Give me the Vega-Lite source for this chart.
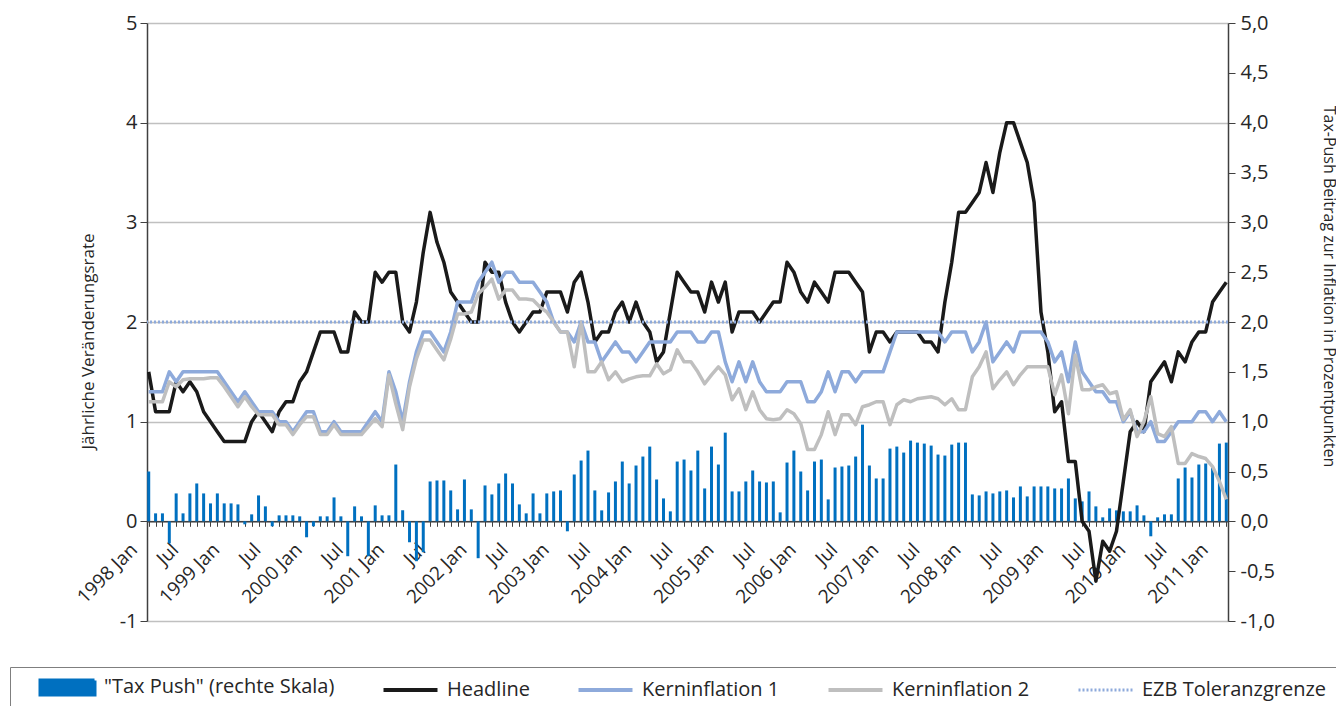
{
  "$schema": "https://vega.github.io/schema/vega-lite/v6.json",
  "width": 1081,
  "height": 598,
  "autosize": {"type": "none"},
  "padding": {"left": 147, "top": 23, "right": 108, "bottom": 85},
  "background": "white",
  "config": {"view": {"stroke": null}, "font": "Open Sans"},
  "datasets": {
    "d": [
      {"m":"1998-01","tax":0.5,"h":1.5,"k1":1.3,"k2":1.2},
      {"m":"1998-02","tax":0.08,"h":1.1,"k1":1.3,"k2":1.2},
      {"m":"1998-03","tax":0.08,"h":1.1,"k1":1.3,"k2":1.2},
      {"m":"1998-04","tax":-0.22,"h":1.1,"k1":1.5,"k2":1.4},
      {"m":"1998-05","tax":0.28,"h":1.4,"k1":1.4,"k2":1.35},
      {"m":"1998-06","tax":0.08,"h":1.3,"k1":1.5,"k2":1.42},
      {"m":"1998-07","tax":0.28,"h":1.4,"k1":1.5,"k2":1.43},
      {"m":"1998-08","tax":0.38,"h":1.3,"k1":1.5,"k2":1.43},
      {"m":"1998-09","tax":0.28,"h":1.1,"k1":1.5,"k2":1.43},
      {"m":"1998-10","tax":0.18,"h":1.0,"k1":1.5,"k2":1.44},
      {"m":"1998-11","tax":0.28,"h":0.9,"k1":1.5,"k2":1.44},
      {"m":"1998-12","tax":0.18,"h":0.8,"k1":1.4,"k2":1.35},
      {"m":"1999-01","tax":0.18,"h":0.8,"k1":1.3,"k2":1.25},
      {"m":"1999-02","tax":0.17,"h":0.8,"k1":1.2,"k2":1.15},
      {"m":"1999-03","tax":-0.03,"h":0.8,"k1":1.3,"k2":1.25},
      {"m":"1999-04","tax":0.07,"h":1.0,"k1":1.2,"k2":1.15},
      {"m":"1999-05","tax":0.26,"h":1.1,"k1":1.1,"k2":1.07},
      {"m":"1999-06","tax":0.15,"h":1.0,"k1":1.1,"k2":1.07},
      {"m":"1999-07","tax":-0.05,"h":0.9,"k1":1.1,"k2":1.07},
      {"m":"1999-08","tax":0.06,"h":1.1,"k1":1.0,"k2":0.97},
      {"m":"1999-09","tax":0.06,"h":1.2,"k1":1.0,"k2":0.97},
      {"m":"1999-10","tax":0.06,"h":1.2,"k1":0.9,"k2":0.87},
      {"m":"1999-11","tax":0.05,"h":1.4,"k1":1.0,"k2":0.97},
      {"m":"1999-12","tax":-0.16,"h":1.5,"k1":1.1,"k2":1.05},
      {"m":"2000-01","tax":-0.05,"h":1.7,"k1":1.1,"k2":1.05},
      {"m":"2000-02","tax":0.05,"h":1.9,"k1":0.9,"k2":0.87},
      {"m":"2000-03","tax":0.05,"h":1.9,"k1":0.9,"k2":0.87},
      {"m":"2000-04","tax":0.24,"h":1.9,"k1":1.0,"k2":0.97},
      {"m":"2000-05","tax":0.05,"h":1.7,"k1":0.9,"k2":0.87},
      {"m":"2000-06","tax":-0.35,"h":1.7,"k1":0.9,"k2":0.87},
      {"m":"2000-07","tax":0.15,"h":2.1,"k1":0.9,"k2":0.87},
      {"m":"2000-08","tax":0.05,"h":2.0,"k1":0.9,"k2":0.87},
      {"m":"2000-09","tax":-0.35,"h":2.0,"k1":1.0,"k2":0.95},
      {"m":"2000-10","tax":0.16,"h":2.5,"k1":1.1,"k2":1.03},
      {"m":"2000-11","tax":0.06,"h":2.4,"k1":1.0,"k2":0.95},
      {"m":"2000-12","tax":0.06,"h":2.5,"k1":1.5,"k2":1.47},
      {"m":"2001-01","tax":0.57,"h":2.5,"k1":1.3,"k2":1.18},
      {"m":"2001-02","tax":0.11,"h":2.0,"k1":1.0,"k2":0.92},
      {"m":"2001-03","tax":-0.21,"h":1.9,"k1":1.4,"k2":1.35},
      {"m":"2001-04","tax":-0.4,"h":2.2,"k1":1.7,"k2":1.63},
      {"m":"2001-05","tax":-0.31,"h":2.7,"k1":1.9,"k2":1.82},
      {"m":"2001-06","tax":0.4,"h":3.1,"k1":1.9,"k2":1.82},
      {"m":"2001-07","tax":0.41,"h":2.8,"k1":1.8,"k2":1.72},
      {"m":"2001-08","tax":0.41,"h":2.6,"k1":1.7,"k2":1.62},
      {"m":"2001-09","tax":0.31,"h":2.3,"k1":1.9,"k2":1.83},
      {"m":"2001-10","tax":0.12,"h":2.2,"k1":2.2,"k2":2.08},
      {"m":"2001-11","tax":0.42,"h":2.1,"k1":2.2,"k2":2.08},
      {"m":"2001-12","tax":0.12,"h":2.0,"k1":2.2,"k2":2.1},
      {"m":"2002-01","tax":-0.37,"h":2.0,"k1":2.4,"k2":2.28},
      {"m":"2002-02","tax":0.36,"h":2.6,"k1":2.5,"k2":2.35},
      {"m":"2002-03","tax":0.27,"h":2.5,"k1":2.6,"k2":2.43},
      {"m":"2002-04","tax":0.38,"h":2.5,"k1":2.4,"k2":2.23},
      {"m":"2002-05","tax":0.48,"h":2.2,"k1":2.5,"k2":2.32},
      {"m":"2002-06","tax":0.38,"h":2.0,"k1":2.5,"k2":2.32},
      {"m":"2002-07","tax":0.17,"h":1.9,"k1":2.4,"k2":2.23},
      {"m":"2002-08","tax":0.08,"h":2.0,"k1":2.4,"k2":2.23},
      {"m":"2002-09","tax":0.28,"h":2.1,"k1":2.4,"k2":2.22},
      {"m":"2002-10","tax":0.08,"h":2.1,"k1":2.3,"k2":2.15},
      {"m":"2002-11","tax":0.28,"h":2.3,"k1":2.2,"k2":2.1},
      {"m":"2002-12","tax":0.3,"h":2.3,"k1":2.0,"k2":2.0},
      {"m":"2003-01","tax":0.31,"h":2.3,"k1":1.9,"k2":1.9},
      {"m":"2003-02","tax":-0.1,"h":2.1,"k1":1.9,"k2":1.9},
      {"m":"2003-03","tax":0.47,"h":2.4,"k1":1.8,"k2":1.55},
      {"m":"2003-04","tax":0.61,"h":2.5,"k1":2.0,"k2":2.0},
      {"m":"2003-05","tax":0.71,"h":2.2,"k1":1.8,"k2":1.5},
      {"m":"2003-06","tax":0.31,"h":1.8,"k1":1.8,"k2":1.5},
      {"m":"2003-07","tax":0.11,"h":1.9,"k1":1.6,"k2":1.6},
      {"m":"2003-08","tax":0.29,"h":1.9,"k1":1.7,"k2":1.42},
      {"m":"2003-09","tax":0.4,"h":2.1,"k1":1.8,"k2":1.5},
      {"m":"2003-10","tax":0.6,"h":2.2,"k1":1.7,"k2":1.4},
      {"m":"2003-11","tax":0.38,"h":2.0,"k1":1.7,"k2":1.43},
      {"m":"2003-12","tax":0.56,"h":2.2,"k1":1.6,"k2":1.45},
      {"m":"2004-01","tax":0.65,"h":2.0,"k1":1.7,"k2":1.46},
      {"m":"2004-02","tax":0.75,"h":1.9,"k1":1.8,"k2":1.46},
      {"m":"2004-03","tax":0.42,"h":1.6,"k1":1.8,"k2":1.58},
      {"m":"2004-04","tax":0.23,"h":1.7,"k1":1.8,"k2":1.48},
      {"m":"2004-05","tax":0.1,"h":2.1,"k1":1.8,"k2":1.52},
      {"m":"2004-06","tax":0.6,"h":2.5,"k1":1.9,"k2":1.72},
      {"m":"2004-07","tax":0.62,"h":2.4,"k1":1.9,"k2":1.6},
      {"m":"2004-08","tax":0.51,"h":2.3,"k1":1.9,"k2":1.6},
      {"m":"2004-09","tax":0.71,"h":2.3,"k1":1.8,"k2":1.5},
      {"m":"2004-10","tax":0.33,"h":2.1,"k1":1.8,"k2":1.38},
      {"m":"2004-11","tax":0.75,"h":2.4,"k1":1.9,"k2":1.47},
      {"m":"2004-12","tax":0.57,"h":2.2,"k1":1.9,"k2":1.55},
      {"m":"2005-01","tax":0.89,"h":2.4,"k1":1.6,"k2":1.47},
      {"m":"2005-02","tax":0.3,"h":1.9,"k1":1.4,"k2":1.22},
      {"m":"2005-03","tax":0.3,"h":2.1,"k1":1.6,"k2":1.33},
      {"m":"2005-04","tax":0.4,"h":2.1,"k1":1.4,"k2":1.12},
      {"m":"2005-05","tax":0.51,"h":2.1,"k1":1.6,"k2":1.3},
      {"m":"2005-06","tax":0.4,"h":2.0,"k1":1.4,"k2":1.12},
      {"m":"2005-07","tax":0.39,"h":2.1,"k1":1.3,"k2":1.03},
      {"m":"2005-08","tax":0.4,"h":2.2,"k1":1.3,"k2":1.02},
      {"m":"2005-09","tax":0.09,"h":2.2,"k1":1.3,"k2":1.03},
      {"m":"2005-10","tax":0.59,"h":2.6,"k1":1.4,"k2":1.12},
      {"m":"2005-11","tax":0.71,"h":2.5,"k1":1.4,"k2":1.08},
      {"m":"2005-12","tax":0.5,"h":2.3,"k1":1.4,"k2":0.98},
      {"m":"2006-01","tax":0.31,"h":2.2,"k1":1.2,"k2":0.72},
      {"m":"2006-02","tax":0.6,"h":2.4,"k1":1.2,"k2":0.72},
      {"m":"2006-03","tax":0.62,"h":2.3,"k1":1.3,"k2":0.87},
      {"m":"2006-04","tax":0.22,"h":2.2,"k1":1.5,"k2":1.1},
      {"m":"2006-05","tax":0.54,"h":2.5,"k1":1.3,"k2":0.87},
      {"m":"2006-06","tax":0.55,"h":2.5,"k1":1.5,"k2":1.07},
      {"m":"2006-07","tax":0.56,"h":2.5,"k1":1.5,"k2":1.07},
      {"m":"2006-08","tax":0.65,"h":2.4,"k1":1.4,"k2":0.97},
      {"m":"2006-09","tax":0.97,"h":2.3,"k1":1.5,"k2":1.15},
      {"m":"2006-10","tax":0.56,"h":1.7,"k1":1.5,"k2":1.17},
      {"m":"2006-11","tax":0.43,"h":1.9,"k1":1.5,"k2":1.2},
      {"m":"2006-12","tax":0.43,"h":1.9,"k1":1.5,"k2":1.2},
      {"m":"2007-01","tax":0.73,"h":1.8,"k1":1.7,"k2":0.97},
      {"m":"2007-02","tax":0.75,"h":1.9,"k1":1.9,"k2":1.17},
      {"m":"2007-03","tax":0.69,"h":1.9,"k1":1.9,"k2":1.22},
      {"m":"2007-04","tax":0.81,"h":1.9,"k1":1.9,"k2":1.2},
      {"m":"2007-05","tax":0.79,"h":1.9,"k1":1.9,"k2":1.23},
      {"m":"2007-06","tax":0.78,"h":1.8,"k1":1.9,"k2":1.24},
      {"m":"2007-07","tax":0.76,"h":1.8,"k1":1.9,"k2":1.25},
      {"m":"2007-08","tax":0.67,"h":1.7,"k1":1.9,"k2":1.23},
      {"m":"2007-09","tax":0.66,"h":2.2,"k1":1.8,"k2":1.17},
      {"m":"2007-10","tax":0.77,"h":2.6,"k1":1.9,"k2":1.23},
      {"m":"2007-11","tax":0.79,"h":3.1,"k1":1.9,"k2":1.12},
      {"m":"2007-12","tax":0.79,"h":3.1,"k1":1.9,"k2":1.12},
      {"m":"2008-01","tax":0.27,"h":3.2,"k1":1.7,"k2":1.45},
      {"m":"2008-02","tax":0.26,"h":3.3,"k1":1.8,"k2":1.55},
      {"m":"2008-03","tax":0.3,"h":3.6,"k1":2.0,"k2":1.7},
      {"m":"2008-04","tax":0.28,"h":3.3,"k1":1.6,"k2":1.33},
      {"m":"2008-05","tax":0.3,"h":3.7,"k1":1.7,"k2":1.42},
      {"m":"2008-06","tax":0.31,"h":4.0,"k1":1.8,"k2":1.5},
      {"m":"2008-07","tax":0.24,"h":4.0,"k1":1.7,"k2":1.37},
      {"m":"2008-08","tax":0.35,"h":3.8,"k1":1.9,"k2":1.47},
      {"m":"2008-09","tax":0.25,"h":3.6,"k1":1.9,"k2":1.55},
      {"m":"2008-10","tax":0.35,"h":3.2,"k1":1.9,"k2":1.55},
      {"m":"2008-11","tax":0.35,"h":2.1,"k1":1.9,"k2":1.55},
      {"m":"2008-12","tax":0.35,"h":1.7,"k1":1.8,"k2":1.55},
      {"m":"2009-01","tax":0.33,"h":1.1,"k1":1.6,"k2":1.27},
      {"m":"2009-02","tax":0.33,"h":1.2,"k1":1.7,"k2":1.47},
      {"m":"2009-03","tax":0.43,"h":0.6,"k1":1.4,"k2":1.08},
      {"m":"2009-04","tax":0.23,"h":0.6,"k1":1.8,"k2":1.67},
      {"m":"2009-05","tax":0.2,"h":0.0,"k1":1.5,"k2":1.32},
      {"m":"2009-06","tax":0.3,"h":-0.1,"k1":1.4,"k2":1.32},
      {"m":"2009-07","tax":0.15,"h":-0.6,"k1":1.3,"k2":1.35},
      {"m":"2009-08","tax":0.04,"h":-0.2,"k1":1.3,"k2":1.37},
      {"m":"2009-09","tax":0.13,"h":-0.3,"k1":1.2,"k2":1.28},
      {"m":"2009-10","tax":0.11,"h":-0.1,"k1":1.2,"k2":1.3},
      {"m":"2009-11","tax":0.1,"h":0.4,"k1":1.0,"k2":1.02},
      {"m":"2009-12","tax":0.1,"h":0.9,"k1":1.1,"k2":1.12},
      {"m":"2010-01","tax":0.16,"h":1.0,"k1":0.9,"k2":0.85},
      {"m":"2010-02","tax":0.06,"h":0.9,"k1":0.9,"k2":1.0},
      {"m":"2010-03","tax":-0.15,"h":1.4,"k1":1.0,"k2":1.25},
      {"m":"2010-04","tax":0.04,"h":1.5,"k1":0.8,"k2":0.88},
      {"m":"2010-05","tax":0.07,"h":1.6,"k1":0.8,"k2":0.85},
      {"m":"2010-06","tax":0.07,"h":1.4,"k1":0.9,"k2":0.95},
      {"m":"2010-07","tax":0.43,"h":1.7,"k1":1.0,"k2":0.58},
      {"m":"2010-08","tax":0.54,"h":1.6,"k1":1.0,"k2":0.58},
      {"m":"2010-09","tax":0.44,"h":1.8,"k1":1.0,"k2":0.68},
      {"m":"2010-10","tax":0.57,"h":1.9,"k1":1.1,"k2":0.65},
      {"m":"2010-11","tax":0.58,"h":1.9,"k1":1.1,"k2":0.63},
      {"m":"2010-12","tax":0.54,"h":2.2,"k1":1.0,"k2":0.55},
      {"m":"2011-01","tax":0.78,"h":2.3,"k1":1.1,"k2":0.4},
      {"m":"2011-02","tax":0.79,"h":2.4,"k1":1.0,"k2":0.22}
    ]
  },
  "layer": [
    {
      "data": {"name": "d"},
      "mark": {"type": "bar", "size": 3},
      "encoding": {
        "x": {
          "field": "m", "type": "ordinal",
          "scale": {"type": "point", "padding": 0.25},
          "axis": {
            "title": null, "offset": -99.7, "grid": false,
            "domainColor": "#404040", "domainWidth": 1.5,
            "tickColor": "#404040", "tickSize": 5, "tickWidth": 1,
            "labelAngle": -45, "labelAlign": "right", "labelBaseline": "middle",
            "labelFontSize": 19, "labelFont": "Open Sans", "labelColor": "#262626",
            "labelPadding": 20, "labelOffset": -15,
            "labelOverlap": false, "labelBound": false, "labelFlush": false,
            "labelExpr": "slice(datum.value,5)=='01' ? slice(datum.value,0,4)+' Jan' : (slice(datum.value,5)=='07' ? 'Jul' : '')"
          }
        },
        "y": {
          "field": "tax", "type": "quantitative",
          "scale": {"domain": [-1, 5], "nice": false, "zero": false},
          "axis": {
            "orient": "right", "grid": false,
            "values": [-1, -0.5, 0, 0.5, 1, 1.5, 2, 2.5, 3, 3.5, 4, 4.5, 5],
            "labelExpr": "datum.value % 1 == 0 ? datum.value + ',0' : replace(datum.value + '', '.', ',')",
            "title": "Tax-Push Beitrag zur Inflation in Prozentpunkten",
            "titleFont": "Open Sans", "titleFontSize": 16, "titleFontWeight": "normal", "titleColor": "#262626",
            "titlePadding": 46, "titleY": 263,
            "labelFont": "Open Sans", "labelFontSize": 20, "labelColor": "#262626", "labelPadding": 5,
            "tickSize": 7, "tickColor": "#404040", "domainColor": "#404040", "domainWidth": 1.5
          }
        },
        "color": {
          "datum": "tax", "type": "nominal", "title": null,
          "scale": {
            "domain": ["tax", "h", "k1", "k2", "ezb"],
            "range": ["#0070C0", "#1A1A1A", "#8EAADB", "#BFBFBF", "#8EAADB"]
          },
          "legend": {
            "orient": "none", "legendX": -137, "legendY": 644,
            "direction": "horizontal", "title": null,
            "padding": 10, "strokeColor": "#7F7F7F", "fillColor": "white",
            "symbolSize": 729, "symbolOffset": 37.5, "symbolStrokeWidth": 4,
            "labelFont": "Open Sans", "labelFontSize": 20, "labelColor": "#262626",
            "labelLimit": 400, "labelOffset": 26.5, "columnPadding": 28,
            "labelExpr": "datum.value == 'tax' ? '\"Tax Push\" (rechte Skala)' : datum.value == 'h' ? 'Headline' : datum.value == 'k1' ? 'Kerninflation 1' : datum.value == 'k2' ? 'Kerninflation 2' : 'EZB Toleranzgrenze'",
            "encode": {
              "symbols": {
                "update": {
                  "shape": {"signal": "datum.value == 'tax' ? 'M-2,-0.52H2V0.52H-2Z' : 'M-2,0H2'"},
                  "fill": {"signal": "datum.value == 'tax' ? '#0070C0' : 'transparent'"},
                  "stroke": {"signal": "datum.value == 'tax' ? 'transparent' : datum.value == 'h' ? '#1A1A1A' : datum.value == 'k2' ? '#BFBFBF' : '#8EAADB'"},
                  "strokeWidth": {"signal": "datum.value == 'ezb' ? 3 : 4"},
                  "strokeDash": {"signal": "datum.value == 'ezb' ? [2, 2] : [1, 0]"},
                  "opacity": {"value": 1}
                }
              }
            }
          }
        }
      }
    },
    {
      "layer": [
        {
          "data": {"name": "d"},
          "transform": [{"fold": ["h", "k1", "k2"], "as": ["s", "v"]}],
          "mark": {"type": "line", "strokeWidth": 3.5, "strokeJoin": "round"},
          "encoding": {
            "x": {"field": "m", "type": "ordinal", "scale": {"type": "point", "padding": 0.25}},
            "y": {
              "field": "v", "type": "quantitative",
              "scale": {"domain": [-1, 5], "nice": false, "zero": false},
              "axis": {
                "orient": "left", "values": [-1, 0, 1, 2, 3, 4, 5],
                "labelExpr": "datum.value + ''",
                "title": "Jährliche Veränderungsrate",
                "titleFont": "Open Sans", "titleFontSize": 17, "titleFontWeight": "normal", "titleColor": "#262626",
                "titlePadding": 22, "titleY": 318,
                "labelFont": "Open Sans", "labelFontSize": 20, "labelColor": "#262626", "labelPadding": 3,
                "tickSize": 7, "tickColor": "#404040", "domainColor": "#404040", "domainWidth": 1.5,
                "grid": true, "gridColor": "#C0C0C0", "gridWidth": 1.5
              }
            },
            "color": {"field": "s", "type": "nominal", "title": null}
          }
        },
        {
          "data": {"values": [{"lvl": 2, "s": "ezb"}]},
          "mark": {"type": "rule", "strokeDash": [2, 2], "strokeWidth": 3},
          "encoding": {
            "y": {"field": "lvl", "type": "quantitative"},
            "color": {"field": "s", "type": "nominal", "title": null}
          }
        }
      ]
    }
  ],
  "resolve": {"scale": {"y": "independent"}}
}
